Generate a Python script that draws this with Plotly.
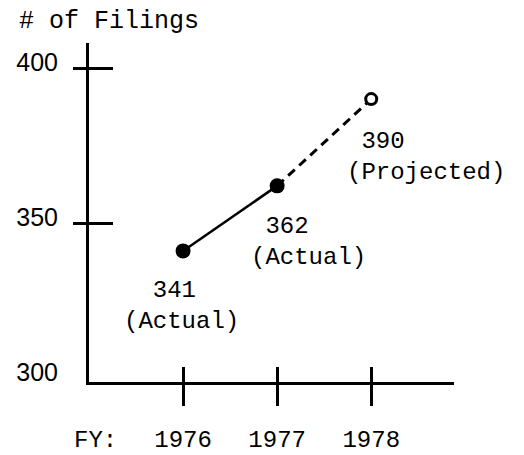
import plotly.graph_objects as go

# ---- data ----
years = [1976, 1977, 1978]
filings = [341, 362, 390]
status = ["Actual", "Actual", "Projected"]
y_ticks = [300, 350, 400]
y_tick_marks = [350, 400]
x_tick_labels = ["1976", "1977", "1978"]
title_text = "# of Filings"
x_prefix = "FY:"

# ---- style ----
MONO = "Liberation Mono, Courier New, monospace"
SANS = "Liberation Sans, Arial, sans-serif"
X_RANGE = [1975.0, 1978.88]
Y_RANGE = [298.7, 408.1]
label_indent = [2, 1, 1]
label_dx = [-61, -28, -26]
label_dy = [-24, -25, -27]

fig = go.Figure()

# solid segment (actual), dashed segment (projected)
fig.add_trace(go.Scatter(x=years[:2], y=filings[:2], mode="lines",
                         line=dict(color="black", width=2.5), showlegend=False, hoverinfo="skip"))
fig.add_trace(go.Scatter(x=years[1:], y=filings[1:], mode="lines",
                         line=dict(color="black", width=3, dash="9px,6px"), showlegend=False, hoverinfo="skip"))
# markers
act_x = [x for x, s in zip(years, status) if s == "Actual"]
act_y = [y for y, s in zip(filings, status) if s == "Actual"]
prj_x = [x for x, s in zip(years, status) if s != "Actual"]
prj_y = [y for y, s in zip(filings, status) if s != "Actual"]
fig.add_trace(go.Scatter(x=act_x, y=act_y, mode="markers",
                         marker=dict(color="black", size=15), showlegend=False))
fig.add_trace(go.Scatter(x=prj_x, y=prj_y, mode="markers",
                         marker=dict(color="white", size=11, line=dict(color="black", width=3)),
                         showlegend=False))

# invisible traces to host overlay tick axes
for k in (2, 3):
    fig.add_trace(go.Scatter(x=years, y=filings, mode="markers", marker=dict(opacity=0),
                             xaxis=f"x{k}", yaxis=f"y{k}", showlegend=False, hoverinfo="skip"))

# value labels
for x, v, s, ind, dx, dy in zip(years, filings, status, label_indent, label_dx, label_dy):
    fig.add_annotation(x=x, y=v, xref="x", yref="y",
                       text="&nbsp;" * ind + f"{v}<br>({s})",
                       showarrow=False, xanchor="left", yanchor="top", align="left",
                       xshift=dx, yshift=dy, font=dict(family=MONO, size=24, color="black"))

fig.add_annotation(text=title_text, xref="paper", yref="paper", x=-0.197, y=1.062,
                   xanchor="left", yanchor="middle", showarrow=False,
                   font=dict(family=MONO, size=25, color="black"))
fig.add_annotation(text=x_prefix, xref="paper", yref="paper", x=-0.047, y=-0.172,
                   xanchor="left", yanchor="middle", showarrow=False,
                   font=dict(family=MONO, size=24, color="black"))

common_x = dict(range=X_RANGE, showgrid=False, zeroline=False, fixedrange=True, automargin=False)
common_y = dict(range=Y_RANGE, showgrid=False, zeroline=False, fixedrange=True, automargin=False)

# the page body adds an 8px margin, so the figure is sized to fill the rest
fig.update_layout(
    width=516, height=447,
    margin=dict(l=81, r=70, t=35, b=73),
    paper_bgcolor="white", plot_bgcolor="white",
    showlegend=False,
    xaxis=dict(**common_x, showline=True, linecolor="black", linewidth=3,
               ticks="", tickmode="array", tickvals=years, ticktext=x_tick_labels,
               ticklabelstandoff=33,
               tickfont=dict(family=MONO, size=24, color="black")),
    xaxis2=dict(**common_x, overlaying="x", anchor="y2", side="bottom", showline=False,
                ticks="outside", ticklen=23, tickwidth=3, tickcolor="black",
                tickmode="array", tickvals=years, showticklabels=False),
    xaxis3=dict(**common_x, overlaying="x", anchor="y3", side="bottom", showline=False,
                ticks="inside", ticklen=15, tickwidth=3, tickcolor="black",
                tickmode="array", tickvals=years, showticklabels=False),
    yaxis=dict(**common_y, showline=True, linecolor="black", linewidth=3,
               ticks="", tickmode="array", tickvals=y_ticks,
               ticklabelstandoff=23, ticklabelshift=-6,
               tickfont=dict(family=SANS, size=25, color="black")),
    yaxis2=dict(**common_y, overlaying="y", anchor="x2", side="left", showline=False,
                ticks="outside", ticklen=15, tickwidth=3, tickcolor="black",
                tickmode="array", tickvals=y_tick_marks, showticklabels=False),
    yaxis3=dict(**common_y, overlaying="y", anchor="x3", side="left", showline=False,
                ticks="inside", ticklen=24, tickwidth=3, tickcolor="black",
                tickmode="array", tickvals=y_tick_marks, showticklabels=False),
)

fig.write_html("out.html")
